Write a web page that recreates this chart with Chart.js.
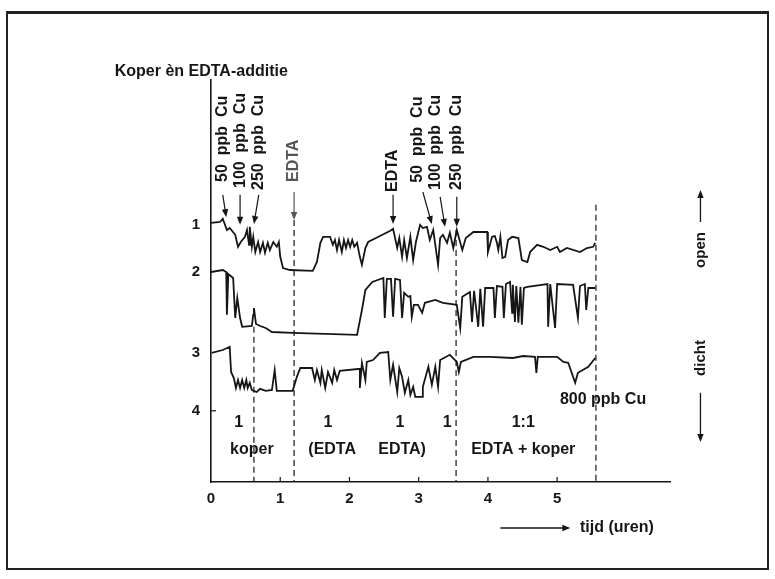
<!DOCTYPE html>
<html>
<head>
<meta charset="utf-8">
<script src="https://cdn.jsdelivr.net/npm/chart.js@4.4.1/dist/chart.umd.min.js"></script>
<style>
  body { margin: 0; background: #fff; }
  #wrap { position: relative; width: 775px; height: 579px; }
  #frame { position: absolute; left: 6px; top: 11px; width: 759px; height: 554px;
           border: 2px solid #222; border-top-width: 3px; pointer-events: none; }
</style>
</head>
<body>
<div id="wrap">
  <canvas id="koper" width="775" height="579"></canvas>
  <div id="frame"></div>
</div>
<script>
// traces: [time in hours, level]
const trace1 = [
  [0.00,64.8],[0.13,65.0],[0.17,65.8],[0.23,63.0],[0.27,63.5],[0.35,61.8],[0.39,58.8],[0.43,60.0],
  [0.49,61.3],[0.52,63.0],[0.55,59.3],[0.56,63.8],[0.59,58.8],[0.61,61.3],[0.64,57.5],[0.68,60.0],
  [0.71,57.5],[0.75,59.8],[0.78,57.3],[0.82,59.8],[0.85,58.0],[0.90,60.0],[0.95,58.8],[0.98,60.0],
  [1.00,56.3],[1.04,53.5],[1.14,53.0],[1.47,52.8],[1.53,55.0],[1.58,59.8],[1.62,61.3],[1.72,61.3],
  [1.76,59.3],[1.79,60.5],[1.82,58.0],[1.85,60.5],[1.89,57.5],[1.92,60.5],[1.95,58.5],[1.98,60.5],
  [2.01,58.8],[2.04,60.5],[2.07,58.8],[2.11,59.8],[2.15,56.3],[2.18,54.3],[2.23,58.5],[2.27,60.0],
  [2.44,61.5],[2.59,62.8],[2.63,63.3],[2.69,58.5],[2.72,61.0],[2.76,56.3],[2.79,60.5],[2.83,56.0],
  [2.88,61.3],[2.92,55.5],[2.96,60.0],[3.02,64.3],[3.06,63.5],[3.12,63.8],[3.16,60.5],[3.21,63.0],
  [3.28,54.3],[3.31,61.0],[3.35,61.8],[3.41,59.8],[3.45,62.3],[3.50,58.5],[3.55,63.0],[3.63,58.0],
  [3.68,61.0],[3.79,62.5],[3.99,62.5],[4.00,57.5],[4.06,61.3],[4.10,61.5],[4.13,59.8],[4.15,58.0],
  [4.18,61.3],[4.21,56.0],[4.25,56.3],[4.29,60.5],[4.35,61.3],[4.44,61.0],[4.49,55.5],[4.57,55.0],
  [4.61,57.5],[4.71,59.3],[4.80,58.8],[4.90,58.0],[5.00,58.8],[5.04,57.5],[5.14,58.5],[5.33,57.5],
  [5.43,58.5],[5.52,58.8],[5.55,59.8]
];
const trace2 = [
  [0.00,52.5],[0.17,53.0],[0.22,52.5],[0.23,41.8],[0.25,52.0],[0.32,51.0],[0.35,41.0],[0.38,46.0],
  [0.42,41.0],[0.45,38.8],[0.59,39.0],[0.61,41.8],[0.62,43.5],[0.65,39.5],[0.71,39.0],[0.79,38.5],
  [0.88,37.5],[1.18,37.3],[2.11,36.8],[2.18,43.0],[2.23,48.0],[2.33,50.0],[2.49,51.0],[2.51,41.0],
  [2.54,50.8],[2.60,50.8],[2.63,41.3],[2.66,50.8],[2.73,50.5],[2.76,41.0],[2.79,47.3],[2.85,46.3],
  [2.88,46.5],[2.90,41.3],[2.93,44.3],[2.99,44.3],[3.05,42.3],[3.09,44.8],[3.24,45.5],[3.35,44.8],
  [3.55,44.3],[3.60,38.5],[3.63,46.3],[3.74,47.5],[3.77,40.0],[3.80,47.8],[3.86,38.8],[3.89,48.3],
  [3.93,38.8],[3.96,48.5],[4.08,48.5],[4.10,41.0],[4.13,49.0],[4.21,48.8],[4.23,41.0],[4.26,49.5],
  [4.32,50.0],[4.35,42.3],[4.36,49.3],[4.39,40.0],[4.41,49.0],[4.44,39.8],[4.47,48.8],[4.49,39.3],
  [4.52,48.5],[4.57,48.8],[4.86,49.5],[4.87,38.8],[4.90,49.5],[4.97,38.5],[5.00,49.5],[5.23,49.3],
  [5.30,41.0],[5.33,49.0],[5.40,49.5],[5.42,43.0],[5.45,48.5],[5.55,48.5]
];
const trace3 = [
  [0.01,32.3],[0.17,33.0],[0.27,33.8],[0.29,27.5],[0.33,26.0],[0.36,23.5],[0.39,25.5],[0.42,23.5],
  [0.45,25.5],[0.48,23.5],[0.51,25.5],[0.53,23.5],[0.56,24.8],[0.59,23.0],[0.66,22.5],[0.71,23.3],
  [0.79,22.8],[0.88,23.0],[0.92,28.0],[0.95,22.8],[1.18,22.8],[1.24,26.3],[1.29,28.5],[1.46,28.5],
  [1.50,25.5],[1.53,28.0],[1.58,24.8],[1.60,28.0],[1.65,23.5],[1.69,27.5],[1.75,24.8],[1.78,28.0],
  [1.82,25.5],[1.86,27.8],[2.15,28.3],[2.15,23.5],[2.18,29.8],[2.23,25.5],[2.25,30.0],[2.34,30.5],
  [2.44,32.3],[2.56,32.5],[2.59,25.5],[2.63,29.3],[2.69,22.5],[2.72,28.5],[2.76,26.3],[2.80,22.3],
  [2.85,25.5],[2.88,21.8],[2.92,23.8],[2.95,21.3],[3.05,21.3],[3.06,23.8],[3.14,28.8],[3.19,24.3],
  [3.24,28.8],[3.28,23.8],[3.31,30.5],[3.45,31.8],[3.55,30.0],[3.58,27.5],[3.61,30.0],[3.79,31.3],
  [4.03,31.3],[4.36,31.0],[4.51,31.5],[4.68,31.3],[4.70,27.3],[4.72,31.3],[5.00,31.3],[5.09,30.0],
  [5.16,29.8],[5.26,24.8],[5.30,27.3],[5.45,28.8],[5.55,31.0]
];

const xTickValues = [0, 1, 2, 3, 4, 5];
const yTickValues = [17.8, 32.3, 52.5, 64.3];
const yTickLabels = ["4", "3", "2", "1"];

// dashed markers: [hour, top level]
const dashedLines = [[0.62, 38.8], [1.2, 65.5], [3.54, 63], [5.56, 69.3]];

// additions: [text, hour, level where text starts, arrow from [h,v], arrow to [h,v]]
const additions = [
  ["50  ppb  Cu", 0.17, 75.0, [0.17, 71.8], [0.22, 66.2]],
  ["100  ppb  Cu", 0.43, 73.5, [0.42, 71.8], [0.42, 64.3]],
  ["250  ppb  Cu", 0.69, 73.0, [0.69, 71.8], [0.62, 64.5]],
  ["EDTA", 1.2, 75.0, [1.2, 72.5], [1.2, 65.5]],
  ["EDTA", 2.63, 72.5, [2.63, 71.8], [2.63, 64.5]],
  ["50  ppb  Cu", 2.98, 74.8, [3.06, 72.5], [3.19, 64.5]],
  ["100  ppb  Cu", 3.24, 73.0, [3.31, 71.3], [3.38, 63.8]],
  ["250  ppb  Cu", 3.55, 73.0, [3.55, 71.3], [3.55, 63.8]]
];

// phase labels below the traces: [text, hour, level]
const phaseLabels = [
  ["1", 0.40, 14.8], ["1", 1.69, 14.8], ["1", 2.73, 14.8], ["1", 3.41, 14.8], ["1:1", 4.51, 14.8],
  ["koper", 0.59, 8], ["(EDTA", 1.75, 8], ["EDTA)", 2.76, 8], ["EDTA + koper", 4.51, 8]
];

const FONT = "'Liberation Sans', Arial, Helvetica, sans-serif";
const INK = "#161616";

const drawArrow = (ctx, x1, y1, x2, y2) => {
  const a = Math.atan2(y2 - y1, x2 - x1);
  const len = 8, wid = 3.2;
  ctx.beginPath();
  ctx.moveTo(x1, y1);
  ctx.lineTo(x2 - Math.cos(a) * len * 0.8, y2 - Math.sin(a) * len * 0.8);
  ctx.stroke();
  ctx.beginPath();
  ctx.moveTo(x2, y2);
  ctx.lineTo(x2 - Math.cos(a) * len - Math.sin(a) * wid, y2 - Math.sin(a) * len + Math.cos(a) * wid);
  ctx.lineTo(x2 - Math.cos(a) * len + Math.sin(a) * wid, y2 - Math.sin(a) * len - Math.cos(a) * wid);
  ctx.closePath();
  ctx.fill();
};

const vText = (ctx, str, x, y, align) => {
  ctx.save();
  ctx.translate(x, y);
  ctx.rotate(-Math.PI / 2);
  ctx.textAlign = align;
  ctx.textBaseline = "middle";
  ctx.fillText(str, 0, 0);
  ctx.restore();
};

const annotations = {
  id: "annotations",
  afterDatasetsDraw(chart) {
    const { ctx, scales: { x, y } } = chart;
    const px = (h) => x.getPixelForValue(h);
    const py = (v) => y.getPixelForValue(v);
    ctx.save();
    ctx.strokeStyle = INK;
    ctx.fillStyle = INK;

    // dashed lines
    ctx.lineWidth = 1.2;
    ctx.setLineDash([6, 4]);
    dashedLines.forEach(([h, top]) => {
      ctx.beginPath();
      ctx.moveTo(px(h), py(top));
      ctx.lineTo(px(h), y.bottom);
      ctx.stroke();
    });
    ctx.setLineDash([]);

    // inward ticks
    ctx.lineWidth = 1.2;
    xTickValues.slice(1).forEach((h) => {
      ctx.beginPath();
      ctx.moveTo(px(h), y.bottom);
      ctx.lineTo(px(h), y.bottom - 5);
      ctx.stroke();
    });
    ctx.beginPath();
    ctx.moveTo(x.left, py(yTickValues[0]));
    ctx.lineTo(x.left + 5, py(yTickValues[0]));
    ctx.stroke();

    // additions with arrows
    ctx.font = "bold 16px " + FONT;
    additions.forEach(([label, h, v, from, to], i) => {
      ctx.fillStyle = i === 3 ? "#555" : INK;
      ctx.strokeStyle = i === 3 ? "#555" : INK;
      vText(ctx, label, px(h), py(v), "left");
      ctx.lineWidth = 1.2;
      drawArrow(ctx, px(from[0]), py(from[1]), px(to[0]), py(to[1]));
    });
    ctx.fillStyle = INK;
    ctx.strokeStyle = INK;

    // title
    ctx.font = "bold 16px " + FONT;
    ctx.textAlign = "left";
    ctx.textBaseline = "middle";
    ctx.fillText("Koper \u00e8n EDTA-additie", px(-1.39), py(102.5));

    // phase labels
    ctx.textAlign = "center";
    phaseLabels.forEach(([label, h, v]) => ctx.fillText(label, px(h), py(v)));
    ctx.textAlign = "left";
    ctx.fillText("800 ppb Cu", px(5.04), py(20.5));

    // open / dicht
    ctx.font = "bold 15px " + FONT;
    vText(ctx, "open", px(7.07), py(58), "center");
    vText(ctx, "dicht", px(7.07), py(31), "center");
    ctx.lineWidth = 1.3;
    drawArrow(ctx, px(7.07), py(65), px(7.07), py(73));
    drawArrow(ctx, px(7.07), py(22.3), px(7.07), py(10));

    // time axis caption
    ctx.font = "bold 16px " + FONT;
    ctx.textAlign = "left";
    ctx.fillText("tijd (uren)", px(5.33), py(-11.5));
    ctx.lineWidth = 1.4;
    drawArrow(ctx, px(4.18), py(-11.5), px(5.19), py(-11.5));
    ctx.restore();
  }
};

const ctx = document.getElementById("koper").getContext("2d");
new Chart(ctx, {
  type: "line",
  data: {
    datasets: [trace1, trace2, trace3].map((t, i) => ({
      label: "trace " + (i + 1),
      data: t.map(([h, v]) => ({ x: h, y: v })),
      borderColor: INK,
      borderWidth: 1.8,
      pointRadius: 0,
      tension: 0,
      fill: false
    }))
  },
  options: {
    responsive: false,
    animation: false,
    layout: { padding: { left: 171, right: 105, top: 80, bottom: 47 } },
    plugins: { legend: { display: false }, tooltip: { enabled: false } },
    scales: {
      x: {
        type: "linear",
        min: 0,
        max: 6.63,
        afterFit: (s) => { s.height = 50; },
        afterBuildTicks: (s) => { s.ticks = xTickValues.map((v) => ({ value: v })); },
        grid: { display: false, drawTicks: false },
        border: { color: INK, width: 1.6 },
        ticks: { padding: 8, color: INK, font: { family: FONT, size: 15, weight: "bold" } }
      },
      y: {
        type: "linear",
        min: 0,
        max: 100.5,
        afterFit: (s) => { s.width = 40; },
        afterBuildTicks: (s) => { s.ticks = yTickValues.map((v) => ({ value: v })); },
        grid: { display: false, drawTicks: false },
        border: { color: INK, width: 1.6 },
        ticks: {
          padding: 11,
          color: INK,
          font: { family: FONT, size: 15, weight: "bold" },
          callback: (value, index) => yTickLabels[index]
        }
      }
    }
  },
  plugins: [annotations]
});
</script>
</body>
</html>
